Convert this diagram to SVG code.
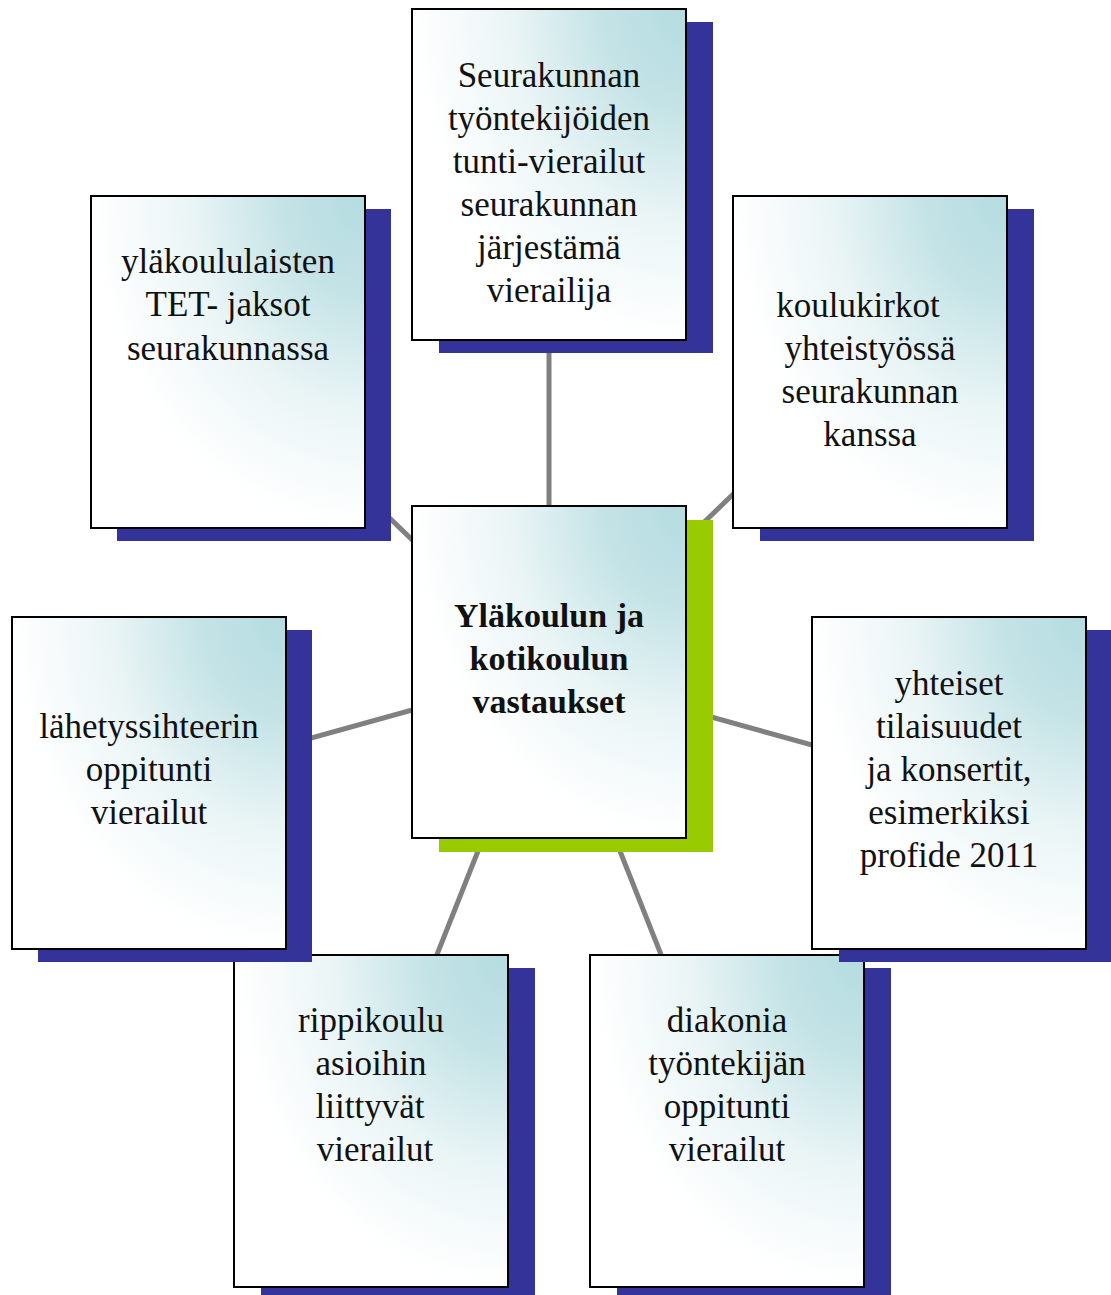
<svg xmlns="http://www.w3.org/2000/svg" width="1111" height="1295" viewBox="0 0 1111 1295">
<style>
.box{fill:url(#g);stroke:#000;stroke-width:2}
.sh{fill:#333399}
.shg{fill:#99cc00}
.t{font-family:"Liberation Serif","Times New Roman",serif;font-size:35px;fill:#111;text-anchor:middle}
.b{font-weight:bold;font-size:34px}
.c{stroke:#808080;stroke-width:5;fill:none}
</style>
<defs>
<radialGradient id="g" cx="1" cy="0" r="1" fx="1" fy="0">
<stop offset="0" stop-color="#b4dce0"/>
<stop offset="0.3" stop-color="#c4e3e6"/>
<stop offset="0.65" stop-color="#ebf5f6"/>
<stop offset="1" stop-color="#ffffff"/>
</radialGradient>
</defs>
<rect width="1111" height="1295" fill="#fff"/>
<g id="connectors">
<line class="c" x1="549" y1="672" x2="549" y2="175"/>
<line class="c" x1="549" y1="672" x2="228" y2="362"/>
<line class="c" x1="549" y1="672" x2="870" y2="362"/>
<line class="c" x1="549" y1="672" x2="149" y2="783"/>
<line class="c" x1="549" y1="672" x2="949" y2="783"/>
<line class="c" x1="549" y1="672" x2="371" y2="1121"/>
<line class="c" x1="549" y1="672" x2="727" y2="1121"/>
</g>
<g id="node-bottom-left">
<rect class="sh" x="261" y="968" width="274" height="332"/>
<rect class="box" x="234" y="955" width="274" height="332"/>
<text class="t"><tspan x="371" y="1032">rippikoulu</tspan><tspan x="371" y="1075">asioihin</tspan><tspan x="370" y="1118">liittyvät</tspan><tspan x="375" y="1161">vierailut</tspan></text>
</g>
<g id="node-bottom-right">
<rect class="sh" x="617" y="968" width="274" height="332"/>
<rect class="box" x="590" y="955" width="274" height="332"/>
<text class="t"><tspan x="727" y="1032">diakonia</tspan><tspan x="727" y="1075">työntekijän</tspan><tspan x="727" y="1118">oppitunti</tspan><tspan x="727" y="1161">vierailut</tspan></text>
</g>
<g id="node-top">
<rect class="sh" x="439" y="22" width="274" height="331"/>
<rect class="box" x="412" y="9" width="274" height="331"/>
<text class="t"><tspan x="549" y="87">Seurakunnan</tspan><tspan x="549" y="130">työntekijöiden</tspan><tspan x="549" y="173">tunti-vierailut</tspan><tspan x="549" y="216">seurakunnan</tspan><tspan x="549" y="259">järjestämä</tspan><tspan x="549" y="302">vierailija</tspan></text>
</g>
<g id="node-top-left">
<rect class="sh" x="117" y="209" width="274" height="332"/>
<rect class="box" x="91" y="196" width="274" height="332"/>
<text class="t"><tspan x="228" y="273">yläkoululaisten</tspan><tspan x="228" y="316">TET- jaksot</tspan><tspan x="228" y="360">seurakunnassa</tspan></text>
</g>
<g id="node-top-right">
<rect class="sh" x="760" y="209" width="274" height="332"/>
<rect class="box" x="733" y="196" width="274" height="332"/>
<text class="t"><tspan x="858" y="317">koulukirkot</tspan><tspan x="870" y="360">yhteistyössä</tspan><tspan x="870" y="403">seurakunnan</tspan><tspan x="870" y="446">kanssa</tspan></text>
</g>
<g id="node-left">
<rect class="sh" x="38" y="630" width="274" height="332"/>
<rect class="box" x="12" y="617" width="274" height="332"/>
<text class="t"><tspan x="149" y="738">lähetyssihteerin</tspan><tspan x="149" y="781">oppitunti</tspan><tspan x="149" y="824">vierailut</tspan></text>
</g>
<g id="node-right">
<rect class="sh" x="839" y="630" width="274" height="332"/>
<rect class="box" x="812" y="617" width="274" height="332"/>
<text class="t"><tspan x="949" y="695">yhteiset</tspan><tspan x="949" y="738">tilaisuudet</tspan><tspan x="949" y="781">ja konsertit,</tspan><tspan x="949" y="824">esimerkiksi</tspan><tspan x="949" y="867">profide 2011</tspan></text>
</g>
<g id="node-center">
<rect class="shg" x="439" y="520" width="274" height="332"/>
<rect class="box" x="412" y="506" width="274" height="332"/>
<text class="t b"><tspan x="549" y="627">Yläkoulun ja</tspan><tspan x="549" y="670">kotikoulun</tspan><tspan x="549" y="713">vastaukset</tspan></text>
</g>
</svg>
